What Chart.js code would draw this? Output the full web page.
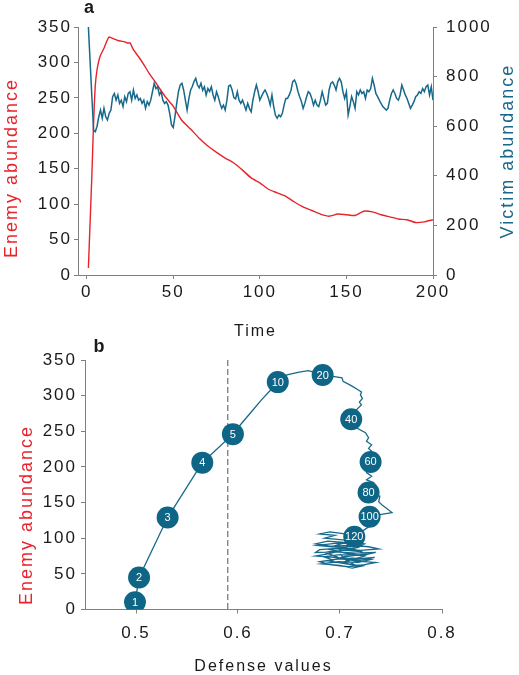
<!DOCTYPE html>
<html>
<head>
<meta charset="utf-8">
<script src="https://cdn.jsdelivr.net/npm/chart.js@4.4.1/dist/chart.umd.min.js"></script>
<style>
  html, body { margin: 0; padding: 0; background: #fff; }
  #wrap { position: relative; width: 519px; height: 675px; }
  .panel { position: absolute; left: 0; width: 519px; }
  #panelA { top: 0; height: 345px; }
  #panelB { top: 330px; height: 345px; }
</style>
</head>
<body>
<div id="wrap">
  <div class="panel" id="panelA"><canvas id="chartA"></canvas></div>
  <div class="panel" id="panelB"><canvas id="chartB"></canvas></div>
</div>
<script>
// --- data: panel a (time series) ---
const timeTicks = [0, 50, 100, 150, 200];
const enemyTicks = [0, 50, 100, 150, 200, 250, 300, 350];
const victimTicks = [0, 200, 400, 600, 800, 1000];

// victim abundance, one value per time step t = 1..200
const victimValues = [
  1000, 860, 720, 584, 578, 600, 638, 665, 632, 672,
  638, 625, 652, 665, 719, 732, 705, 726, 692, 705,
  679, 719, 699, 732, 739, 705, 746, 712, 726, 705,
  712, 692, 705, 672, 699, 685, 705, 739, 773, 752,
  759, 726, 739, 705, 692, 699, 685, 650, 605, 595,
  640, 692, 739, 766, 773, 746, 705, 665, 710, 745,
  760, 780, 793, 766, 755, 773, 745, 759, 726, 752,
  740, 759, 726, 705, 739, 719, 692, 672, 685, 665,
  705, 762, 766, 746, 715, 710, 739, 705, 692, 705,
  685, 665, 692, 672, 658, 705, 739, 766, 740, 705,
  720, 735, 746, 732, 712, 685, 726, 679, 645, 632,
  645, 638, 652, 685, 712, 712, 726, 745, 780, 786,
  770, 740, 719, 700, 672, 692, 719, 739, 732, 712,
  685, 705, 685, 679, 705, 739, 712, 685, 692, 746,
  773, 779, 766, 746, 779, 793, 779, 739, 712, 739,
  645, 680, 720, 699, 672, 739, 726, 746, 732, 739,
  712, 746, 739, 752, 793, 766, 732, 719, 705, 692,
  679, 672, 665, 672, 705, 732, 746, 732, 712, 705,
  726, 766, 746, 726, 712, 692, 672, 685, 699, 719,
  726, 739, 732, 752, 739, 759, 766, 726, 759, 705
];

const enemyTime = [1, 2, 3, 4, 5, 6, 7, 8, 10, 12, 13, 14, 16, 18, 20, 22, 24, 25, 27,
  30, 33, 36, 40, 45, 50, 55, 60, 65, 70, 75, 80, 85, 90, 95, 100,
  105, 110, 115, 120, 125, 130, 135, 140, 145, 150, 155, 160, 165, 170, 175, 180, 185, 190, 195, 200];
const enemyValues = [10, 75, 140, 215, 268, 290, 302, 310, 320, 332, 336, 335, 333, 331, 330, 329, 327, 328, 318,
  308, 297, 285, 271, 253, 238, 218, 206, 193, 182, 173, 165, 158, 148, 137, 130,
  121, 116, 111, 103, 96, 91, 86, 83, 86, 85, 84, 90, 89, 85, 82, 79, 78, 74, 75, 78];

// --- data: panel b (defense vs enemy trajectory) ---
const defenseTicks = [0.5, 0.6, 0.7, 0.8];
const defenseThreshold = 0.59;
const pathDefense = [
  0.499, 0.503, 0.531, 0.565, 0.595, 0.604, 0.613, 0.623, 0.632, 0.639,
  0.648, 0.660, 0.669, 0.674, 0.683, 0.693, 0.702, 0.703, 0.711, 0.718,
  0.721, 0.720, 0.722, 0.719, 0.721, 0.716, 0.711, 0.716, 0.725, 0.728,
  0.726, 0.731, 0.728, 0.731, 0.729, 0.730, 0.726, 0.726, 0.731, 0.726,
  0.733, 0.729, 0.728, 0.739, 0.738, 0.741, 0.751, 0.739, 0.729, 0.736,
  0.729, 0.714,
  0.705, 0.690, 0.680, 0.695, 0.685, 0.700, 0.716, 0.704, 0.688, 0.676,
  0.690, 0.712, 0.728, 0.738, 0.720, 0.700, 0.680, 0.676, 0.695, 0.715,
  0.735, 0.722, 0.700, 0.684, 0.692, 0.712, 0.730, 0.718, 0.698, 0.682,
  0.700, 0.712, 0.722, 0.706, 0.690, 0.704, 0.726, 0.714, 0.696, 0.708,
  0.724, 0.718, 0.700, 0.688, 0.676, 0.694, 0.716, 0.734, 0.720, 0.698,
  0.680, 0.690, 0.708, 0.724, 0.735, 0.716, 0.700, 0.685, 0.700, 0.722,
  0.710, 0.692, 0.678, 0.697, 0.718, 0.706, 0.690, 0.705, 0.724, 0.712,
  0.702, 0.715, 0.705, 0.700
];
const pathEnemy = [
  10, 45, 129, 206, 246, 262, 277, 294, 308, 319,
  329, 333, 335, 333, 329, 327, 325, 320, 314, 308,
  305, 301, 296, 291, 287, 280, 267, 255, 248, 241,
  236, 231, 226, 222, 214, 207, 198, 192, 187, 182,
  178, 171, 164, 159, 151, 147, 136, 133, 130, 121,
  117, 102,
  106, 109, 106, 104, 100, 98, 96, 94, 96, 92,
  89, 90, 88, 85, 83, 86, 84, 80, 81, 79,
  80, 76, 77, 74, 70, 72, 70, 66, 67, 64,
  62, 58, 61, 64, 68, 74, 78, 84, 90, 95,
  92, 87, 82, 78, 75, 73, 71, 73, 69, 71,
  67, 63, 60, 63, 66, 68, 72, 80, 84, 81,
  86, 88, 90, 93, 92, 88, 84, 79, 75, 70,
  66, 62, 70, 78
];
const markerLabels = ['1', '2', '3', '4', '5', '10', '20', '40', '60', '80', '100', '120'];
const markerDefense = [0.499, 0.503, 0.531, 0.565, 0.595, 0.639, 0.683, 0.711, 0.730, 0.728, 0.729, 0.714];
const markerEnemy = [10, 45, 129, 206, 246, 319, 329, 267, 207, 164, 130, 102];

// --- styles ---
const FONT = "'Liberation Sans', Arial, sans-serif";
const RED = '#e8232b';
const TEAL = '#17698b';
const MARK = '#0e6586';
const AXIS = '#808080';
const TXT = '#1a1a1a';
const SPACING = '2px';

// the original figure has loosely spaced lettering
const spacedText = {
  id: 'spacedText',
  beforeLayout(chart) { chart.ctx.letterSpacing = SPACING; },
  beforeDraw(chart) { chart.ctx.letterSpacing = SPACING; }
};

// text drawn at fixed spots (panel letters, axis titles)
const extraText = {
  id: 'extraText',
  afterDraw(chart, args, opts) {
    const ctx = chart.ctx;
    (opts.items || []).forEach(it => {
      ctx.save();
      ctx.font = it.font;
      ctx.fillStyle = it.color;
      ctx.textAlign = 'center';
      ctx.textBaseline = 'middle';
      ctx.translate(it.x, it.y);
      if (it.rotate) ctx.rotate(it.rotate);
      ctx.fillText(it.text, 0, 0);
      ctx.restore();
    });
  }
};

// dashed reference line at the defense threshold
const thresholdLine = {
  id: 'thresholdLine',
  beforeDatasetsDraw(chart, args, opts) {
    if (opts.value == null) return;
    const { ctx, chartArea } = chart;
    const x = chart.scales.x.getPixelForValue(opts.value);
    ctx.save();
    ctx.strokeStyle = '#555';
    ctx.lineWidth = 1;
    ctx.setLineDash([6, 3]);
    ctx.beginPath();
    ctx.moveTo(x, chartArea.top);
    ctx.lineTo(x, chartArea.bottom);
    ctx.stroke();
    ctx.restore();
  }
};

// numbers written inside the time markers
const markerText = {
  id: 'markerText',
  afterDatasetsDraw(chart, args, opts) {
    if (!opts.labels) return;
    const meta = chart.getDatasetMeta(opts.datasetIndex);
    const ctx = chart.ctx;
    ctx.save();
    ctx.letterSpacing = '0px';
    ctx.font = '11px ' + FONT;
    ctx.fillStyle = '#fff';
    ctx.textAlign = 'center';
    ctx.textBaseline = 'middle';
    meta.data.forEach((pt, i) => ctx.fillText(opts.labels[i], pt.x, pt.y + 0.5));
    ctx.restore();
  }
};

const tickFont = { family: FONT, size: 17 };
const titleFont = { family: FONT, size: 16, lineHeight: 1 };
const yTitleFont = '18px ' + FONT;

function axisStyle(extra) {
  return Object.assign({
    grid: { drawOnChartArea: false, drawTicks: true, tickLength: 4, color: AXIS },
    border: { display: true, color: AXIS, width: 1 },
  }, extra);
}

// --- 1. Panel a ---
new Chart(document.getElementById('chartA'), {
  type: 'line',
  data: {
    datasets: [
      {
        label: 'Victim abundance',
        data: victimValues.map((v, i) => ({ x: i + 1, y: v })),
        yAxisID: 'y2',
        borderColor: TEAL,
        borderWidth: 1.5,
        pointRadius: 0,
        tension: 0
      },
      {
        label: 'Enemy abundance',
        data: enemyTime.map((t, i) => ({ x: t, y: enemyValues[i] })),
        yAxisID: 'y',
        borderColor: RED,
        borderWidth: 1.4,
        pointRadius: 0,
        tension: 0.2
      }
    ]
  },
  options: {
    responsive: true,
    maintainAspectRatio: false,
    animation: false,
    layout: { padding: { top: 27, left: 0, right: 0, bottom: 0 } },
    plugins: {
      legend: { display: false },
      tooltip: { enabled: false },
      extraText: {
        items: [
          { text: 'a', x: 90, y: 8, font: 'bold 18px ' + FONT, color: TXT },
          { text: 'Enemy abundance', x: 12, y: 168, rotate: -Math.PI / 2, font: yTitleFont, color: RED },
          { text: 'Victim abundance', x: 508, y: 151, rotate: -Math.PI / 2, font: yTitleFont, color: TEAL }
        ]
      }
    },
    scales: {
      x: axisStyle({
        type: 'linear', min: -5, max: 200,
        afterBuildTicks: s => { s.ticks = timeTicks.map(v => ({ value: v })); },
        afterFit: s => { s.height = 70; },
        ticks: { font: tickFont, color: TXT, padding: 3, maxRotation: 0 },
        title: { display: true, text: 'Time', font: titleFont, color: TXT, padding: { top: 0, bottom: 5 } }
      }),
      y: axisStyle({
        position: 'left', min: 0, max: 350,
        afterBuildTicks: s => { s.ticks = enemyTicks.map(v => ({ value: v })); },
        afterFit: s => { s.width = 78; },
        ticks: { font: tickFont, color: TXT, padding: 2 }
      }),
      y2: axisStyle({
        position: 'right', min: 0, max: 1000,
        afterBuildTicks: s => { s.ticks = victimTicks.map(v => ({ value: v })); },
        afterFit: s => { s.width = 86; },
        ticks: { font: tickFont, color: TXT, padding: 9, callback: v => String(v) }
      })
    }
  },
  plugins: [spacedText, extraText]
});

// --- 2. Panel b ---
new Chart(document.getElementById('chartB'), {
  type: 'scatter',
  data: {
    datasets: [
      {
        label: 'Time markers',
        data: markerDefense.map((d, i) => ({ x: d, y: markerEnemy[i] })),
        pointRadius: 11,
        pointBackgroundColor: MARK,
        pointBorderWidth: 0,
        showLine: false
      },
      {
        label: 'Trajectory',
        data: pathDefense.map((d, i) => ({ x: d, y: pathEnemy[i] })),
        showLine: true,
        borderColor: TEAL,
        borderWidth: 1.3,
        pointRadius: 0,
        tension: 0
      }
    ]
  },
  options: {
    responsive: true,
    maintainAspectRatio: false,
    animation: false,
    layout: { padding: { top: 30, left: 0, right: 77, bottom: 0 } },
    plugins: {
      legend: { display: false },
      tooltip: { enabled: false },
      thresholdLine: { value: defenseThreshold },
      markerText: { datasetIndex: 0, labels: markerLabels },
      extraText: {
        items: [
          { text: 'b', x: 100, y: 17, font: 'bold 18px ' + FONT, color: TXT },
          { text: 'Enemy abundance', x: 27, y: 185, rotate: -Math.PI / 2, font: yTitleFont, color: RED }
        ]
      }
    },
    scales: {
      x: axisStyle({
        type: 'linear', min: 0.45, max: 0.8,
        afterBuildTicks: s => { s.ticks = defenseTicks.map(v => ({ value: v })); },
        afterFit: s => { s.height = 65.5; },
        ticks: { font: tickFont, color: TXT, padding: 10, maxRotation: 0, callback: v => v.toFixed(1) },
        title: { display: true, text: 'Defense values', font: titleFont, color: TXT, padding: { top: 0, bottom: 0 } }
      }),
      y: axisStyle({
        position: 'left', min: 0, max: 350,
        afterBuildTicks: s => { s.ticks = enemyTicks.map(v => ({ value: v })); },
        afterFit: s => { s.width = 85; },
        ticks: { font: tickFont, color: TXT, padding: 4 }
      })
    }
  },
  plugins: [spacedText, thresholdLine, markerText, extraText]
});
</script>
</body>
</html>
